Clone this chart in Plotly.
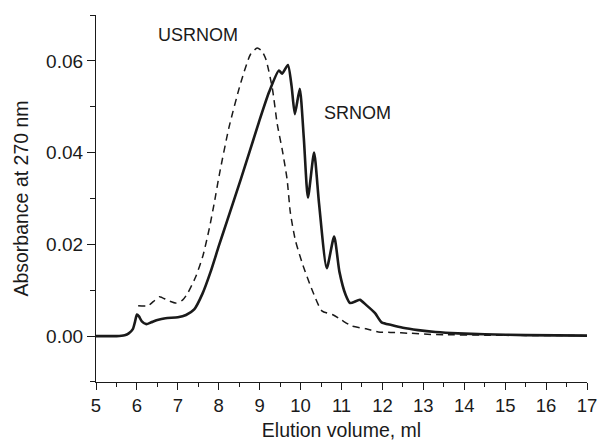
import plotly.graph_objects as go

# SRNOM (solid)
sr_x = [5.0, 5.5, 5.7, 5.8, 5.9, 5.95, 6.0, 6.05, 6.12, 6.23, 6.35, 6.5, 6.7, 7.0, 7.2,
        7.4, 7.6, 7.8, 8.0, 8.2, 8.54, 8.98, 9.23, 9.47, 9.55, 9.69, 9.78, 9.86, 9.98,
        10.08, 10.18, 10.33, 10.45, 10.64, 10.82, 10.95, 11.1, 11.21, 11.45, 11.6, 11.82,
        11.98, 12.22, 12.5, 12.87, 13.3, 13.84, 14.5, 15.5, 17.0]
sr_y = [0.0, 0.0, 0.0002, 0.0006, 0.0015, 0.003, 0.0047, 0.0043, 0.0032, 0.0026, 0.003,
        0.0035, 0.0039, 0.0041, 0.0046, 0.0058, 0.0092, 0.0140, 0.0196, 0.0250, 0.0342,
        0.0466, 0.0532, 0.0579, 0.0572, 0.0591, 0.0545, 0.0484, 0.0539, 0.0430, 0.0302,
        0.0400, 0.0290, 0.0148, 0.0217, 0.0140, 0.0090, 0.0072, 0.0079, 0.0068, 0.0050,
        0.0030, 0.0024, 0.0018, 0.0013, 0.0009, 0.0006, 0.0004, 0.0002, 0.0001]

# USRNOM (dashed)
us_x = [6.03, 6.27, 6.4, 6.55, 6.75, 6.96, 7.12, 7.25, 7.44, 7.61, 7.77, 7.89, 8.01, 8.25,
        8.54, 8.78, 8.94, 9.05, 9.15, 9.31, 9.43, 9.55, 9.67, 9.75, 9.87, 10.04, 10.28,
        10.52, 10.8, 11.0, 11.25, 11.6, 11.9, 12.2, 12.7, 13.1, 13.5, 14.5, 17.0]
us_y = [0.0066, 0.0066, 0.0075, 0.0086, 0.0078, 0.0072, 0.0079, 0.0095, 0.0130, 0.0174,
        0.0235, 0.0290, 0.0350, 0.0455, 0.0553, 0.0615, 0.0628, 0.0622, 0.0604, 0.0540,
        0.0462, 0.0407, 0.0342, 0.0269, 0.0210, 0.0159, 0.0101, 0.0055, 0.0046, 0.0035,
        0.0022, 0.0016, 0.0009, 0.0008, 0.0006, 0.0004, 0.0003, 0.0002, 0.0001]

x_ticks = list(range(5, 18))
y_ticks = [0.0, 0.02, 0.04, 0.06]
y_tick_labels = ["0.00", "0.02", "0.04", "0.06"]

FONT = "Liberation Sans, Arial, sans-serif"
INK = "#1a1a1a"

fig = go.Figure()
fig.add_trace(go.Scatter(x=us_x, y=us_y, mode="lines",
                         line=dict(color=INK, width=1.5, dash="7px,5px", shape="spline", smoothing=0.6),
                         showlegend=False, hoverinfo="skip"))
fig.add_trace(go.Scatter(x=sr_x, y=sr_y, mode="lines",
                         line=dict(color=INK, width=2.6, shape="spline", smoothing=0.6),
                         showlegend=False, hoverinfo="skip"))

fig.add_annotation(x=7.49, y=0.0656, text="USRNOM", showarrow=False,
                   font=dict(family=FONT, size=18, color=INK), xanchor="center", yanchor="middle")
fig.add_annotation(x=11.40, y=0.0486, text="SRNOM", showarrow=False,
                   font=dict(family=FONT, size=18, color=INK), xanchor="center", yanchor="middle")

fig.update_layout(
    width=598, height=444,
    margin=dict(l=96, r=11, t=15, b=62, autoexpand=False),
    paper_bgcolor="white", plot_bgcolor="white",
    font=dict(family=FONT, color=INK),
)
fig.update_xaxes(range=[4.9999, 17.0001], tickvals=x_ticks, ticks="outside", ticklen=7, tickwidth=1.2,
                 tickcolor=INK, showline=True, linecolor=INK, linewidth=1.2, showgrid=False,
                 zeroline=False, tickfont=dict(size=18.5, family=FONT, color=INK),
                 ticklabeloverflow="allow", automargin=False,
                 minor=dict(dtick=0.5, tick0=5, ticks="outside", ticklen=4, tickcolor=INK, tickwidth=1.2),
                 title=dict(text="Elution volume, ml", font=dict(size=19.5, family=FONT, color=INK), standoff=8))
fig.update_yaxes(range=[-0.01001, 0.07], tickvals=y_ticks, ticktext=y_tick_labels, ticks="outside",
                 ticklen=8, tickwidth=1.2, tickcolor=INK, showline=True, linecolor=INK, linewidth=1.2,
                 showgrid=False, zeroline=False, tickfont=dict(size=19, family=FONT, color=INK),
                 automargin=False,
                 minor=dict(dtick=0.01, tick0=0, ticks="outside", ticklen=5, tickcolor=INK, tickwidth=1.2),
                 title=dict(text="Absorbance at 270 nm", font=dict(size=19.5, family=FONT, color=INK), standoff=12))

fig.write_html("out.html")
